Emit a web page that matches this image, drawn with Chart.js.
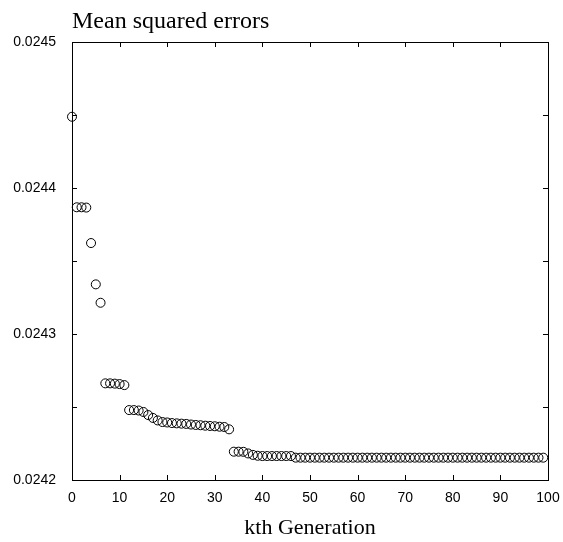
<!DOCTYPE html>
<html>
<head>
<meta charset="utf-8">
<script src="https://cdn.jsdelivr.net/npm/chart.js@4.4.1/dist/chart.umd.min.js"></script>
<style>
    html, body { margin: 0; padding: 0; background: #fff; }
    #wrap { width: 563px; height: 542px; position: relative; }
</style>
</head>
<body>
<div id="wrap"><canvas id="mseChart"></canvas></div>
<script>
//////////
// Data //
//////////

const chart_title = 'Mean squared errors'
const x_title = 'kth Generation'

const generations = [
    0, 1, 2, 3, 4, 5, 6, 7, 8, 9,
    10, 11, 12, 13, 14, 15, 16, 17, 18, 19,
    20, 21, 22, 23, 24, 25, 26, 27, 28, 29,
    30, 31, 32, 33, 34, 35, 36, 37, 38, 39,
    40, 41, 42, 43, 44, 45, 46, 47, 48, 49,
    50, 51, 52, 53, 54, 55, 56, 57, 58, 59,
    60, 61, 62, 63, 64, 65, 66, 67, 68, 69,
    70, 71, 72, 73, 74, 75, 76, 77, 78, 79,
    80, 81, 82, 83, 84, 85, 86, 87, 88, 89,
    90, 91, 92, 93, 94, 95, 96, 97, 98, 99
]

const mse_values = [
    0.0244488, 0.0243868, 0.0243868, 0.0243866, 0.0243623, 0.0243340, 0.0243214, 0.0242662, 0.0242662, 0.0242660,
    0.0242657, 0.0242650, 0.0242479, 0.0242479, 0.0242476, 0.0242466, 0.0242445, 0.0242425, 0.0242408, 0.0242397,
    0.0242394, 0.0242390, 0.0242388, 0.0242386, 0.0242384, 0.0242380, 0.0242377, 0.0242375, 0.0242372, 0.0242370,
    0.0242368, 0.0242365, 0.0242363, 0.0242347, 0.0242194, 0.0242194, 0.0242193, 0.0242182, 0.0242172, 0.0242166,
    0.0242164, 0.0242164, 0.0242164, 0.0242164, 0.0242164, 0.0242164, 0.0242164, 0.0242153, 0.0242153, 0.0242153,
    0.0242153, 0.0242153, 0.0242153, 0.0242153, 0.0242153, 0.0242153, 0.0242153, 0.0242153, 0.0242153, 0.0242153,
    0.0242153, 0.0242153, 0.0242153, 0.0242153, 0.0242153, 0.0242153, 0.0242153, 0.0242153, 0.0242153, 0.0242153,
    0.0242153, 0.0242153, 0.0242153, 0.0242153, 0.0242153, 0.0242153, 0.0242153, 0.0242153, 0.0242153, 0.0242153,
    0.0242153, 0.0242153, 0.0242153, 0.0242153, 0.0242153, 0.0242153, 0.0242153, 0.0242153, 0.0242153, 0.0242153,
    0.0242153, 0.0242153, 0.0242153, 0.0242153, 0.0242153, 0.0242153, 0.0242153, 0.0242153, 0.0242153, 0.0242153
]

const x_min = 0, x_max = 100, x_step = 10
const y_min = 0.0242, y_max = 0.0245, y_step = 0.00005

var points = []
for (var i = 0; i < generations.length; i++) {
    points.push({ x: generations[i], y: mse_values[i] })
}

/////////////////////////////
// Box + inward tick marks //
/////////////////////////////

const boxTicks = {
    id: 'boxTicks',
    afterDraw(chart) {
        const ctx = chart.ctx
        const a = chart.chartArea
        const sx = chart.scales.x
        const sy = chart.scales.y
        const len = 5
        ctx.save()
        ctx.strokeStyle = '#000'
        ctx.lineWidth = 1
        ctx.strokeRect(Math.round(a.left) + 0.5, Math.round(a.top) + 0.5,
            Math.round(a.right - a.left), Math.round(a.bottom - a.top))
        ctx.beginPath()
        sx.ticks.forEach((t) => {
            const px = Math.round(sx.getPixelForValue(t.value)) + 0.5
            ctx.moveTo(px, a.bottom); ctx.lineTo(px, a.bottom - len)
            ctx.moveTo(px, a.top); ctx.lineTo(px, a.top + len)
        })
        sy.ticks.forEach((t) => {
            const py = Math.round(sy.getPixelForValue(t.value)) + 0.5
            ctx.moveTo(a.left, py); ctx.lineTo(a.left + len, py)
            ctx.moveTo(a.right, py); ctx.lineTo(a.right - len, py)
        })
        ctx.stroke()

        // title, left aligned with plot box
        ctx.fillStyle = '#000'
        ctx.font = '24px "Liberation Serif", "Times New Roman", serif'
        ctx.textBaseline = 'alphabetic'
        ctx.textAlign = 'left'
        ctx.fillText(chart_title, a.left, 28)
        ctx.restore()
    }
}

//////////////////
// Create Chart //
//////////////////

var mse_chart = new Chart('mseChart', {
    type: 'scatter',
    data: {
        datasets: [{
            data: points,
            pointStyle: 'circle',
            pointRadius: 4.5,
            pointBorderWidth: 1,
            borderColor: '#000',
            backgroundColor: 'rgba(0,0,0,0)',
            clip: false
        }]
    },
    options: {
        responsive: true,
        maintainAspectRatio: false,
        animation: false,
        layout: { padding: { left: 0, right: 15, top: 42, bottom: 0 } },
        plugins: {
            legend: { display: false },
            tooltip: { enabled: false }
        },
        scales: {
            x: {
                type: 'linear',
                min: x_min,
                max: x_max,
                grid: { display: false },
                border: { display: false },
                ticks: {
                    stepSize: x_step,
                    padding: 2,
                    color: '#000',
                    font: { family: '"Liberation Sans", Arial, sans-serif', size: 14 }
                },
                title: {
                    display: true,
                    text: x_title,
                    color: '#000',
                    padding: { top: 10, bottom: 1 },
                    font: { family: '"Liberation Serif", "Times New Roman", serif', size: 22 }
                },
                afterFit(scale) { scale.height = 62 }
            },
            y: {
                type: 'linear',
                min: y_min,
                max: y_max,
                grid: { display: false },
                border: { display: false },
                ticks: {
                    stepSize: y_step,
                    padding: 8,
                    color: '#000',
                    font: { family: '"Liberation Sans", Arial, sans-serif', size: 14 },
                    callback: function (v) {
                        const k = Math.round(v * 100000)
                        return (k % 10 === 0) ? (k / 100000).toFixed(4) : ''
                    }
                },
                afterFit(scale) { scale.width = 72 }
            }
        }
    },
    plugins: [boxTicks]
});
</script>
</body>
</html>
